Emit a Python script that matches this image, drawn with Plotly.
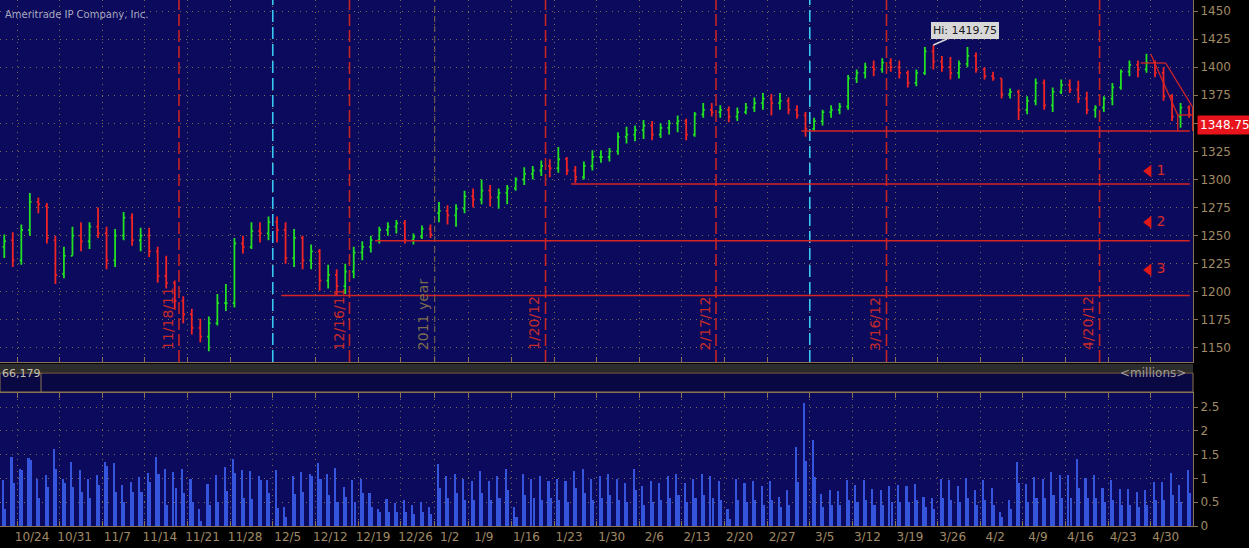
import pandas as pd
import plotly.graph_objects as go
from plotly.subplots import make_subplots

# trading days shown (futures, daily bars)
holidays = ["2011-12-26", "2012-01-02"]
days = pd.bdate_range("2011-10-20", "2012-05-04")
days = days[~days.isin(pd.to_datetime(holidays))]

# OHLC, one line per week
opens = [
    1240, 1246,
    1228, 1255, 1280, 1276, 1246,
    1216, 1232, 1250, 1245, 1258,
    1252, 1228, 1250, 1266, 1246,
    1250, 1236, 1214, 1208, 1192,
    1180, 1168, 1160, 1172, 1190,
    1190, 1243, 1240, 1254, 1252,
    1262, 1255, 1230, 1248, 1228,
    1236, 1210, 1215, 1205, 1218,
    1235, 1240, 1246, 1255, 1258,
    1261, 1246, 1249, 1256,
    1270, 1272, 1268, 1274,
    1285, 1282, 1290, 1284, 1288,
    1292, 1300, 1305, 1308, 1312,
    1310, 1318, 1308, 1302, 1312,
    1320, 1320, 1325, 1338, 1340,
    1344, 1348, 1340, 1346, 1350,
    1352, 1340, 1358, 1362, 1360,
    1362, 1356, 1360, 1364, 1368,
    1372, 1368, 1370, 1362, 1357,
    1345, 1352, 1360, 1362, 1365,
    1390, 1395, 1400, 1398, 1404,
    1400, 1395, 1386, 1395, 1414,
    1405, 1400, 1395, 1403, 1410,
    1398, 1392, 1390, 1376, 1378,
    1362, 1370, 1386, 1366, 1378,
    1384, 1380, 1372, 1362, 1364,
    1372, 1382, 1396, 1402, 1398,
    1404, 1395, 1374, 1356, 1364,
]
highs = [
    1251, 1253,
    1260, 1288, 1284, 1279, 1250,
    1240, 1258, 1262, 1262, 1275,
    1258, 1256, 1271, 1270, 1257,
    1257, 1240, 1232, 1210, 1196,
    1185, 1176, 1178, 1198, 1207,
    1248, 1250, 1262, 1262, 1267,
    1267, 1262, 1256, 1250, 1242,
    1238, 1224, 1220, 1225, 1240,
    1245, 1250, 1258, 1262, 1264,
    1264, 1252, 1259, 1260,
    1280, 1277, 1278, 1290,
    1292, 1300, 1295, 1292, 1295,
    1302, 1311, 1312, 1317, 1318,
    1329, 1320, 1312, 1316, 1326,
    1326, 1328, 1342, 1347, 1348,
    1353, 1352, 1350, 1353, 1357,
    1354, 1360, 1368, 1368, 1366,
    1365, 1364, 1368, 1373, 1377,
    1376, 1377, 1373, 1366, 1360,
    1355, 1362, 1366, 1368, 1393,
    1398, 1404, 1406, 1408, 1408,
    1406, 1397, 1398, 1418, 1419.75,
    1410, 1409, 1406, 1418, 1413,
    1400, 1396, 1390, 1381, 1380,
    1374, 1390, 1389, 1382, 1389,
    1389, 1388, 1378, 1366, 1374,
    1386, 1398, 1406, 1406, 1412,
    1406, 1400, 1376, 1368, 1366,
]
lows = [
    1230, 1222,
    1224, 1250, 1270, 1243, 1207,
    1212, 1232, 1236, 1238, 1248,
    1220, 1222, 1246, 1241, 1236,
    1231, 1208, 1203, 1184, 1172,
    1162, 1155, 1147, 1170, 1183,
    1186, 1234, 1238, 1244, 1246,
    1244, 1225, 1222, 1220, 1220,
    1201, 1203, 1197, 1198, 1212,
    1228, 1235, 1243, 1250, 1252,
    1243, 1242, 1247, 1248,
    1262, 1260, 1258, 1270,
    1275, 1278, 1276, 1274, 1278,
    1290, 1295, 1300, 1303, 1302,
    1306, 1304, 1297, 1300, 1308,
    1315, 1316, 1322, 1332, 1334,
    1336, 1335, 1337, 1340, 1342,
    1335, 1338, 1355, 1356, 1355,
    1351, 1352, 1358, 1360, 1362,
    1357, 1362, 1358, 1354, 1338,
    1343, 1348, 1355, 1358, 1362,
    1386, 1390, 1392, 1395, 1396,
    1390, 1382, 1383, 1393, 1398,
    1396, 1389, 1390, 1400, 1395,
    1389, 1388, 1372, 1372, 1353,
    1358, 1366, 1362, 1360, 1376,
    1377, 1368, 1358, 1355, 1360,
    1366, 1380, 1392, 1391, 1395,
    1391, 1370, 1352, 1346, 1355,
]
closes = [
    1245, 1228,
    1255, 1280, 1278, 1248, 1215,
    1232, 1250, 1245, 1258, 1252,
    1228, 1250, 1266, 1246, 1250,
    1236, 1214, 1208, 1192, 1180,
    1168, 1160, 1172, 1190, 1190,
    1243, 1240, 1254, 1252, 1262,
    1255, 1230, 1248, 1228, 1236,
    1210, 1215, 1205, 1218, 1235,
    1240, 1246, 1255, 1258, 1261,
    1246, 1249, 1256, 1251,
    1272, 1268, 1274, 1285,
    1282, 1290, 1284, 1288, 1292,
    1300, 1305, 1308, 1312, 1310,
    1318, 1308, 1302, 1312, 1320,
    1320, 1325, 1338, 1340, 1344,
    1348, 1340, 1346, 1350, 1352,
    1340, 1358, 1362, 1360, 1362,
    1356, 1360, 1364, 1368, 1372,
    1368, 1370, 1362, 1357, 1345,
    1352, 1360, 1362, 1365, 1390,
    1395, 1400, 1398, 1404, 1400,
    1395, 1386, 1395, 1414, 1405,
    1400, 1395, 1403, 1410, 1398,
    1392, 1390, 1376, 1378, 1362,
    1370, 1386, 1366, 1378, 1384,
    1380, 1372, 1362, 1364, 1372,
    1382, 1396, 1402, 1398, 1404,
    1395, 1374, 1356, 1364, 1358,
]

# volume (millions): opening-hour spike and the bar after it
vol_open = [
    0.97, 1.46,
    1.21, 1.43, 1.00, 1.07, 1.63,
    1.00, 1.35, 1.18, 1.00, 1.07,
    1.35, 1.32, 0.86, 0.93, 1.04,
    1.11, 1.46, 1.21, 1.14, 1.21,
    1.00, 0.35, 0.88, 1.07, 1.25,
    1.41, 1.18, 1.16, 1.06, 0.97,
    1.18, 0.41, 1.05, 1.14, 1.09,
    1.33, 1.09, 1.23, 0.83, 0.97,
    1.00, 0.69, 0.36, 0.57, 0.48,
    0.55, 0.45, 0.50, 0.40,
    1.30, 1.05, 1.10, 1.00,
    0.95, 1.15, 0.95, 1.05, 1.20,
    0.40, 1.10, 1.00, 1.05, 0.95,
    1.00, 0.95, 1.15, 1.20, 1.00,
    1.05, 1.10, 1.00, 0.90, 1.20,
    0.85, 0.95, 0.90, 1.05, 1.10,
    0.90, 1.00, 1.10, 1.05, 0.95,
    0.35, 1.00, 0.90, 0.95, 0.85,
    0.95, 0.62, 0.76, 1.67, 2.59,
    1.81, 0.68, 0.76, 0.74, 0.97,
    0.86, 0.97, 0.78, 0.76, 0.85,
    0.86, 0.85, 0.88, 0.62, 0.60,
    1.00, 0.97, 0.85, 1.01, 0.75,
    0.97, 0.79, 0.30, 0.55, 1.35,
    0.88, 1.04, 1.00, 1.14, 1.07,
    1.07, 1.42, 1.01, 1.07, 0.81,
    0.97, 0.78, 0.78, 0.72, 0.76,
    0.93, 0.93, 1.11, 0.86, 1.18,
]
vol_next = [
    0.35, 0.90,
    1.18, 1.39, 0.58, 0.83, 1.21,
    0.90, 0.83, 0.72, 0.58, 0.86,
    1.26, 0.72, 0.50, 0.72, 0.72,
    0.93, 1.09, 0.44, 0.79, 0.69,
    0.50, 0.10, 0.45, 0.50, 0.74,
    1.11, 0.60, 0.57, 0.97, 0.69,
    0.37, 0.20, 0.67, 0.72, 1.06,
    1.00, 0.65, 0.50, 0.62, 0.50,
    0.69, 0.40, 0.30, 0.30, 0.30,
    0.30, 0.25, 0.30, 0.25,
    0.80, 0.60, 0.70, 0.55,
    0.55, 0.70, 0.55, 0.60, 0.75,
    0.20, 0.65, 0.60, 0.55, 0.60,
    0.55, 0.50, 0.80, 0.70, 0.55,
    0.60, 0.65, 0.55, 0.50, 0.75,
    0.45, 0.50, 0.55, 0.60, 0.65,
    0.50, 0.60, 0.65, 0.60, 0.55,
    0.15, 0.55, 0.50, 0.55, 0.45,
    0.55, 0.40, 0.45, 0.93, 1.37,
    1.04, 0.40, 0.45, 0.45, 0.55,
    0.50, 0.55, 0.45, 0.45, 0.50,
    0.50, 0.50, 0.55, 0.40, 0.35,
    0.60, 0.55, 0.50, 0.60, 0.45,
    0.55, 0.45, 0.20, 0.35, 0.90,
    0.50, 0.60, 0.60, 0.65, 0.60,
    0.60, 0.80, 0.60, 0.60, 0.50,
    0.55, 0.45, 0.45, 0.40, 0.45,
    0.55, 0.55, 0.65, 0.50, 0.70,
]

# weekly date ticks (holiday Mondays fall on the Tuesday)
tick_dates = ["2011-10-24", "2011-10-31", "2011-11-07", "2011-11-14", "2011-11-21",
              "2011-11-28", "2011-12-05", "2011-12-12", "2011-12-19", "2011-12-27",
              "2012-01-03", "2012-01-09", "2012-01-16", "2012-01-23", "2012-01-30",
              "2012-02-06", "2012-02-13", "2012-02-20", "2012-02-27", "2012-03-05",
              "2012-03-12", "2012-03-19", "2012-03-26", "2012-04-02", "2012-04-09",
              "2012-04-16", "2012-04-23", "2012-04-30"]
tick_labels = ["10/24", "10/31", "11/7", "11/14", "11/21", "11/28", "12/5", "12/12",
               "12/19", "12/26", "1/2", "1/9", "1/16", "1/23", "1/30", "2/6", "2/13",
               "2/20", "2/27", "3/5", "3/12", "3/19", "3/26", "4/2", "4/9", "4/16",
               "4/23", "4/30"]

price_ticks = [1150, 1175, 1200, 1225, 1250, 1275, 1300, 1325, 1350, 1375, 1400, 1425, 1450]
price_tick_text = ["1150", "1175", "1200", "1225", "1250", "1275", "1300", "1325", "",
                   "1375", "1400", "1425", "1450"]
vol_ticks = [0, 0.5, 1, 1.5, 2, 2.5]

expirations = ["2011-11-18", "2011-12-16", "2012-01-20", "2012-02-17", "2012-03-16", "2012-04-20"]
expiration_labels = ["11/18/11", "12/16/11", "1/20/12", "2/17/12", "3/16/12", "4/20/12"]
cyan_marks = ["2011-12-05", "2012-03-05"]

# horizontal support levels: (start date, price)
supports = [("2011-12-06", 1196.75), ("2011-12-21", 1245.5), ("2012-01-25", 1296.0), ("2012-03-02", 1343.25)]
target_prices = [1307.5, 1262.0, 1219.5]
target_labels = ["1", "2", "3"]

last_price = 1348.75
high_price = 1419.75

BG = "#000000"
PANEL = "#0b0a5c"
TAN = "#a08a66"
AXIS = "#8a7450"
GRID = "#7d6d50"
RED = "#d42a2a"
FONT = "DejaVu Sans"

bar_x = days + pd.Timedelta(hours=12)

fig = make_subplots(rows=2, cols=1, shared_xaxes=True)

fig.add_trace(go.Ohlc(
    x=bar_x, open=opens, high=highs, low=lows, close=closes,
    increasing=dict(line=dict(color="#22e022", width=1.8)),
    decreasing=dict(line=dict(color="#f02424", width=1.8)),
    tickwidth=0.2, showlegend=False,
), row=1, col=1)

fig.add_trace(go.Bar(
    x=days + pd.Timedelta(hours=9), y=vol_open, width=4.5 * 3600 * 1000,
    marker=dict(color="#3556dc", line=dict(width=0)), showlegend=False,
), row=2, col=1)
fig.add_trace(go.Bar(
    x=days + pd.Timedelta(hours=15), y=vol_next, width=4.5 * 3600 * 1000,
    marker=dict(color="#3556dc", line=dict(width=0)), showlegend=False,
), row=2, col=1)

# target markers 1,2,3
fig.add_trace(go.Scatter(
    x=["2012-04-27 18:00"] * 3, y=target_prices, mode="markers+text",
    text=target_labels, textposition="middle right",
    textfont=dict(color=RED, size=14, family=FONT),
    marker=dict(symbol="triangle-left", size=11, color="#e01818"),
    showlegend=False,
), row=1, col=1)

breaks = [dict(bounds=["sat", "mon"]), dict(values=holidays)]
x_range = ["2011-10-20 00:00", "2012-05-04 23:00"]
grid_dash = "1px,5px"

fig.update_layout(
    width=1249, height=548,
    paper_bgcolor=BG, plot_bgcolor=PANEL,
    margin=dict(l=0, r=56, t=0, b=22),
    bargap=0, barmode="overlay",
    font=dict(family=FONT, size=12, color=TAN),
    xaxis=dict(
        type="date", range=x_range, rangebreaks=breaks,
        rangeslider=dict(visible=False),
        tickvals=tick_dates, ticktext=tick_labels, showticklabels=False,
        showgrid=True, gridcolor=GRID, griddash=grid_dash, gridwidth=1,
        ticks="inside", ticklen=5, tickcolor=AXIS,
        showline=True, linecolor=AXIS, zeroline=False,
    ),
    xaxis2=dict(
        type="date", range=x_range, rangebreaks=breaks,
        tickvals=tick_dates, ticktext=tick_labels,
        tickfont=dict(size=12, color=TAN), ticklabelshift=15,
        showgrid=True, gridcolor=GRID, griddash=grid_dash, gridwidth=1,
        ticks="inside", ticklen=5, tickcolor=AXIS,
        showline=True, linecolor=AXIS, mirror="ticks", zeroline=False,
    ),
    yaxis=dict(
        domain=[0.3118, 1], range=[1137.5, 1459.8], side="right",
        tickvals=price_ticks, ticktext=price_tick_text, tickfont=dict(size=12, color=TAN),
        ticks="outside", ticklen=4, tickcolor=AXIS,
        showline=True, linecolor=AXIS,
        showgrid=True, gridcolor=GRID, griddash=grid_dash, zeroline=False,
    ),
    yaxis2=dict(
        domain=[0, 0.2529], range=[0, 2.8], side="right",
        tickvals=vol_ticks, ticktext=["0", "0.5", "1", "1.5", "2", "2.5"],
        tickfont=dict(size=12, color=TAN),
        ticks="outside", ticklen=4, tickcolor=AXIS,
        showline=True, linecolor=AXIS,
        showgrid=True, gridcolor=GRID, griddash=grid_dash, zeroline=False,
    ),
)

shapes = []
# separator strip and volume header
shapes.append(dict(type="rect", xref="paper", yref="paper", x0=0, x1=1, y0=0.2928, y1=0.308,
                   fillcolor="#2c2c2c", line=dict(width=0)))
shapes.append(dict(type="rect", xref="paper", yref="paper", x0=0, x1=1, y0=0.2548, y1=0.2909,
                   fillcolor="#0a0842", line=dict(color=AXIS, width=1)))
shapes.append(dict(type="line", xref="paper", yref="paper", x0=41 / 1193, x1=41 / 1193,
                   y0=0.2548, y1=0.2909, line=dict(color=AXIS, width=1)))
# options expiration lines
for d in expirations:
    shapes.append(dict(type="line", xref="x", yref="y domain", x0=d, x1=d, y0=0, y1=1,
                       line=dict(color="#c42424", width=1.6, dash="12px,4px")))
for d in cyan_marks:
    shapes.append(dict(type="line", xref="x", yref="y domain", x0=d, x1=d, y0=0, y1=1,
                       line=dict(color="#38c8f0", width=1.6, dash="12px,5px")))
# year boundary
shapes.append(dict(type="line", xref="x", yref="y domain", x0="2012-01-03", x1="2012-01-03",
                   y0=0, y1=1, line=dict(color="#7d6c4e", width=1, dash="6px,4px")))
# support levels
for start, level in supports:
    shapes.append(dict(type="line", xref="x", yref="y", x0=start, x1="2012-05-04 14:00",
                       y0=level, y1=level, line=dict(color="#d42424", width=1.5)))
# falling channel drawing
channel = [
    ("2012-04-26 19:00", 1403.7, "2012-05-01 18:00", 1403.7),
    ("2012-04-30 00:00", 1411.7, "2012-05-03 04:00", 1357.4),
    ("2012-05-01 18:00", 1403.7, "2012-05-04 22:00", 1364.5),
    ("2012-05-03 04:00", 1357.4, "2012-05-04 22:00", 1357.4),
    ("2012-05-03 04:00", 1357.4, "2012-05-03 04:00", 1343.2),
    ("2012-05-04 22:00", 1364.5, "2012-05-04 22:00", 1343.2),
]
for xa, ya, xb, yb in channel:
    shapes.append(dict(type="line", xref="x", yref="y", x0=xa, x1=xb, y0=ya, y1=yb,
                       line=dict(color="#d42424", width=1.3)))
fig.update_layout(shapes=shapes)

annotations = []
for d, lab in zip(expirations, expiration_labels):
    annotations.append(dict(x=d, y=1146, xref="x", yref="y", text=lab, textangle=-90,
                            xanchor="right", yanchor="bottom", xshift=-1, showarrow=False,
                            font=dict(color="#c42a2a", size=14, family=FONT)))
annotations.append(dict(x="2012-01-03", y=1146, xref="x", yref="y", text="2011 year",
                        textangle=-90, xanchor="right", yanchor="bottom", xshift=-1,
                        showarrow=False, font=dict(color="#7d6c4e", size=14, family=FONT)))
annotations.append(dict(x="2012-03-23 12:00", y=high_price, xref="x", yref="y",
                        text="Hi: %.2f" % high_price, showarrow=True, arrowhead=0,
                        arrowcolor="#d8d8d8", arrowwidth=1.5, ax=32, ay=-14,
                        bgcolor="#d8d8d8", bordercolor="#d8d8d8", borderpad=1,
                        font=dict(color="#1a1a1a", size=11, family=FONT)))
annotations.append(dict(x=1, y=last_price, xref="paper", yref="y", text="%.2f" % last_price,
                        xanchor="left", xshift=4, showarrow=False, bgcolor="#e8141c",
                        borderpad=2, font=dict(color="white", size=12, family=FONT)))
annotations.append(dict(x=0, y=0.9867, xref="paper", yref="paper",
                        text="Ameritrade IP Company, Inc.", xanchor="left", xshift=3,
                        showarrow=False, font=dict(color="#a8a8c0", size=10, family=FONT)))
annotations.append(dict(x=0, y=0.2729, xref="paper", yref="paper", text="66,179",
                        xanchor="left", xshift=0, showarrow=False,
                        font=dict(color="#c8c0b0", size=11, family=FONT)))
annotations.append(dict(x=1, y=0.2729, xref="paper", yref="paper", text="&lt;millions&gt;",
                        xanchor="right", xshift=-5, showarrow=False,
                        font=dict(color="#a09c98", size=12, family=FONT)))
fig.update_layout(annotations=annotations)

fig.write_html("out.html", config={"displayModeBar": False},
               post_script="document.body.style.margin='0';")
